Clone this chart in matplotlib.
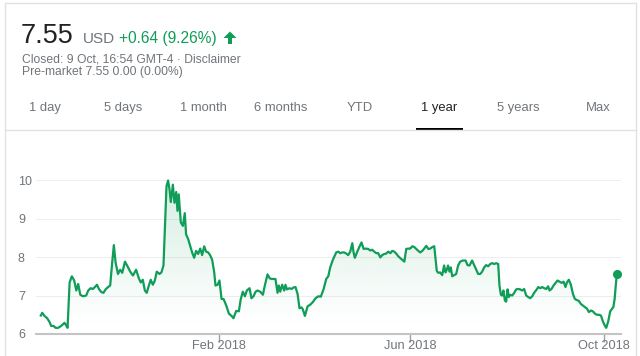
import numpy as np
import pandas as pd
import matplotlib
matplotlib.use("Agg")
import matplotlib.pyplot as plt
import matplotlib.dates as mdates
from matplotlib.patches import Polygon, Rectangle
from matplotlib.lines import Line2D

plt.rcParams['font.family'] = ['Liberation Sans', 'DejaVu Sans']

# quote header
price_now = '7.55'
currency = 'USD'
change_text = '+0.64 (9.26%)'
closed_text = 'Closed: 9 Oct, 16:54 GMT-4 · Disclaimer'
premarket_text = 'Pre-market 7.55 0.00 (0.00%)'
tabs = ['1 day', '5 days', '1 month', '6 months', 'YTD', '1 year', '5 years', 'Max']
active_tab = '1 year'

# series: days after 9 Oct 2017, closing price
start_date = '2017-10-09'
days = [
    2.9, 3.8, 5.2, 6.9, 8.4, 9.4, 10.9, 12.2, 13.8, 15.7, 17.8, 18.9, 19.7, 21.0, 22.4,
    23.9, 25.2, 26.4, 27.7, 29.4, 31.4, 32.7, 34.2, 35.6, 36.9, 38.2, 39.4, 40.9, 42.3, 43.6,
    44.9, 46.5, 47.6, 48.8, 49.9, 51.4, 52.8, 54.1, 55.8, 57.4, 59.1, 60.8,
    62.8, 64.5, 65.7, 67.0, 68.3, 69.5, 70.8, 72.0, 73.3, 74.5, 75.8, 77.5, 78.7, 80.0, 81.9,
    82.9, 83.8, 84.6, 85.9, 86.9, 88.0, 88.8, 89.6, 90.9, 92.2, 93.4, 94.2, 95.5, 96.8, 98.0,
    99.3, 100.5, 101.8, 103.1, 104.3, 105.6, 106.8, 108.1, 109.3, 110.6, 111.9, 112.7, 114.0,
    115.2, 116.5, 117.7, 118.6, 119.8, 121.1, 122.8, 124.0,
    125.7, 127.4, 128.6, 129.9, 131.2, 132.4, 134.1, 135.3, 136.6, 137.9, 139.1, 140.8, 142.5,
    143.7, 145.4, 146.7, 147.9, 149.2, 150.4, 151.7, 152.5, 153.4, 154.6, 155.9, 156.7, 157.6,
    159.2, 160.5, 161.8, 163.0, 164.3, 165.5, 166.8, 167.6, 168.9, 170.6, 172.2, 173.9, 175.6,
    177.3, 178.9, 180.6, 182.3, 183.6, 184.8, 186.5, 188.6,
    189.9, 191.1, 192.4, 193.6, 194.9, 196.1, 197.4, 198.7, 199.5, 200.3, 201.6, 203.3, 204.5,
    205.8, 207.0, 208.7, 210.0, 211.2, 212.5, 213.8, 215.0, 216.3, 217.5, 218.8, 220.0, 221.3,
    222.6, 223.8, 225.1, 226.3, 227.6, 228.9, 230.1, 231.4, 232.6, 233.9, 235.1, 236.4, 237.7,
    238.9, 240.2, 241.4, 242.7, 243.9, 245.2, 246.5, 247.7, 249.0, 250.2,
    251.8, 252.7, 253.9, 255.2, 256.4, 257.3, 258.1, 258.9, 259.8, 260.6, 261.5, 262.7, 264.0,
    265.2, 266.5, 268.2, 269.9, 271.1, 272.4, 274.0, 275.3, 276.6, 277.8, 279.1, 280.3, 281.6,
    282.8, 284.1, 285.4, 286.6, 287.9, 289.1, 290.4, 291.2, 292.1, 292.9, 293.7, 294.6, 295.4,
    296.3, 297.1, 297.9, 299.2, 300.5, 301.7, 303.0, 304.2, 305.5, 306.7, 308.0, 309.3, 310.5,
    311.8, 313.0,
    314.3, 315.6, 316.8, 318.1, 319.3, 320.6, 321.8, 322.7, 323.9, 325.2, 326.5, 327.7, 329.0,
    330.2, 331.5, 332.7, 333.6, 334.8, 336.1, 337.4, 338.6, 339.9, 341.1, 342.4, 343.6, 344.9,
    346.2, 347.4, 348.7, 349.9, 351.2, 352.5, 353.7, 355.0, 356.2, 357.5, 358.3, 359.6, 360.8,
    361.7, 362.8, 363.6, 364.3, 365.0,
]
prices = [
    6.48, 6.55, 6.47, 6.41, 6.31, 6.21, 6.21, 6.16, 6.16, 6.21, 6.29, 6.22, 6.16, 7.34, 7.50,
    7.39, 7.13, 7.30, 7.02, 6.98, 7.00, 7.13, 7.19, 7.17, 7.22, 7.28, 7.17, 7.09, 7.07, 7.16,
    7.21, 7.26, 7.78, 8.31, 7.86, 7.56, 7.67, 7.59, 7.88, 7.76, 7.62, 7.52,
    7.67, 7.45, 7.34, 7.41, 7.13, 7.07, 7.26, 7.41, 7.28, 7.38, 7.62, 7.56, 7.60, 7.78, 9.84,
    9.99, 9.76, 9.43, 9.88, 9.41, 9.69, 9.20, 9.63, 8.90, 8.81, 9.14, 8.59, 8.47, 8.29, 8.12,
    7.98, 8.16, 8.08, 8.22, 8.05, 8.28, 8.14, 8.12, 8.05, 7.93, 7.60, 7.26, 7.28,
    7.39, 6.91, 6.91, 6.83, 6.70, 6.53, 6.47, 6.41,
    6.60, 6.59, 6.91, 7.10, 6.98, 7.13, 7.19, 6.93, 6.98, 7.10, 7.13, 7.10, 7.02,
    7.26, 7.55, 7.45, 7.43, 7.43, 7.43, 7.07, 7.26, 7.10, 7.28, 7.13, 7.28, 7.16,
    7.19, 7.17, 7.21, 7.22, 7.04, 6.67, 6.69, 6.64, 6.47, 6.72, 6.76, 6.83, 6.93,
    6.98, 6.97, 7.16, 7.43, 7.50, 7.73, 7.93, 8.12,
    8.14, 8.10, 8.12, 8.12, 8.09, 8.05, 8.14, 8.36, 8.12, 7.98, 8.12, 8.28, 8.38,
    8.21, 8.22, 8.21, 8.17, 8.19, 8.14, 8.10, 8.10, 7.99, 8.05, 8.08, 8.09, 8.14,
    8.10, 8.16, 8.14, 8.09, 8.02, 7.97, 7.93, 7.88, 8.21, 8.22, 8.22, 8.28, 8.26,
    8.21, 8.16, 8.12, 8.16, 8.22, 8.29, 8.21, 8.22, 8.26, 8.28,
    7.64, 7.59, 7.60, 7.53, 7.78, 7.60, 7.67, 7.78, 7.62, 7.73, 7.50, 7.53, 7.56,
    7.78, 7.88, 7.91, 7.91, 7.79, 7.78, 7.91, 7.79, 7.67, 7.56, 7.56, 7.62, 7.73,
    7.79, 7.76, 7.82, 7.84, 7.82, 7.84, 7.82, 7.26, 7.02, 7.00, 7.13, 6.87, 6.84,
    7.16, 6.96, 7.02, 7.00, 7.07, 7.16, 7.17, 7.16, 7.13, 7.17, 7.00, 6.96, 6.93,
    6.98, 7.07,
    7.14, 7.22, 7.19, 7.22, 7.19, 7.17, 7.24, 7.13, 7.17, 7.26, 7.33, 7.39, 7.36,
    7.33, 7.36, 7.22, 7.34, 7.41, 7.28, 7.04, 6.91, 6.88, 6.86, 6.78, 6.74, 6.70,
    6.66, 6.57, 6.61, 6.59, 6.53, 6.50, 6.50, 6.48, 6.33, 6.21, 6.16, 6.33, 6.59,
    6.64, 6.70, 6.91, 7.26, 7.55,
]

y_ticks = [6, 7, 8, 9, 10]
x_tick_dates = ['2018-02-01', '2018-06-01', '2018-10-01']
x_tick_labels = ['Feb 2018', 'Jun 2018', 'Oct 2018']

GREEN = '#0f9d58'
GRAY = '#70757a'
W, H = 640, 356


def fx(x):
    return x / W


def fy(y):
    return 1 - y / H


fig = plt.figure(figsize=(W / 100, H / 100), dpi=100)
fig.patch.set_facecolor('white')

# card outline, tab separator and active tab underline
fig.add_artist(Rectangle((fx(5), fy(360)), fx(631), 357 / H, transform=fig.transFigure,
                         facecolor='none', edgecolor='#dfe1e5', lw=1))
fig.add_artist(Line2D([fx(5), fx(636)], [fy(129.5), fy(129.5)], transform=fig.transFigure,
                      color='#dfe1e5', lw=1))

fig.text(fx(21), fy(43), price_now, fontsize=19.5, color='#222222', va='baseline')
fig.text(fx(83), fy(43), currency, fontsize=11, color=GRAY, va='baseline')
fig.text(fx(119), fy(43), change_text, fontsize=11.2, color=GREEN, va='baseline')
arrow = [(230, 31.5), (236.5, 38), (232, 38), (232, 44), (228, 44), (228, 38), (223.5, 38)]
fig.add_artist(Polygon([(fx(a), fy(b)) for a, b in arrow], closed=True,
                       transform=fig.transFigure, color=GREEN, lw=0))
fig.text(fx(22), fy(62), closed_text, fontsize=8.7, color=GRAY, va='baseline')
fig.text(fx(22), fy(75.5), premarket_text, fontsize=8.7, color=GRAY, va='baseline')

tab_x = [45, 123.5, 203, 281, 360, 439.5, 518.5, 598]
for t, x in zip(tabs, tab_x):
    fig.text(fx(x), fy(111), t, fontsize=9.4, ha='center', va='baseline',
             color='#222222' if t == active_tab else GRAY)
    if t == active_tab:
        fig.add_artist(Rectangle((fx(x - 23.5), fy(131)), 47 / W, 2.5 / H,
                                 transform=fig.transFigure, color='black', lw=0))

# chart
ax = fig.add_axes([fx(36), fy(334), (621 - 36) / W, (334 - 172) / H])
start = pd.Timestamp(start_date)
dates = start + pd.to_timedelta(np.array(days), unit='D')
xnum = mdates.date2num(dates)
vals = np.array(prices)

for v in y_ticks[1:]:
    ax.axhline(v, color='#ededed', lw=0.7, zorder=1)

verts = np.column_stack([np.r_[xnum[0], xnum, xnum[-1]], np.r_[6, vals, 6]])
clip = Polygon(verts, closed=True, facecolor='none', edgecolor='none')
ax.add_patch(clip)
grad = np.zeros((256, 1, 4))
grad[:, 0, :3] = matplotlib.colors.to_rgb(GREEN)
grad[:, 0, 3] = np.clip(np.linspace(0.17, -0.01, 256), 0, None)
img = ax.imshow(grad, extent=[xnum[0], xnum[-1], 6, 10], origin='upper', aspect='auto',
                zorder=2, interpolation='bilinear')
img.set_clip_path(clip)

ax.plot(xnum, vals, color=GREEN, lw=1.6, solid_joinstyle='round', zorder=3)
ax.plot(xnum[-1], vals[-1], 'o', ms=5.5, color=GREEN, zorder=4)

ax.set_xlim(mdates.date2num(start + pd.Timedelta(days=-0.13)),
            mdates.date2num(start + pd.Timedelta(days=367.6)))
ax.set_ylim(6, 10.21)

for s in ['top', 'right', 'left']:
    ax.spines[s].set_visible(False)
ax.spines['bottom'].set_color('#c4c4c4')
ax.spines['bottom'].set_linewidth(1.5)

ax.set_xticks(mdates.date2num(pd.to_datetime(x_tick_dates)))
ax.set_xticklabels(x_tick_labels)
ax.tick_params(axis='x', length=5.8, width=1, color='#9aa0a6', pad=-1.2,
               labelsize=9.2, labelcolor=GRAY)
ax.set_yticks(y_ticks)
ax.set_yticklabels([str(v) for v in y_ticks])
ax.tick_params(axis='y', length=0, pad=13, labelsize=9, labelcolor=GRAY)
for lbl in ax.get_yticklabels():
    lbl.set_horizontalalignment('left')

fig.savefig('out.png', dpi=100)
